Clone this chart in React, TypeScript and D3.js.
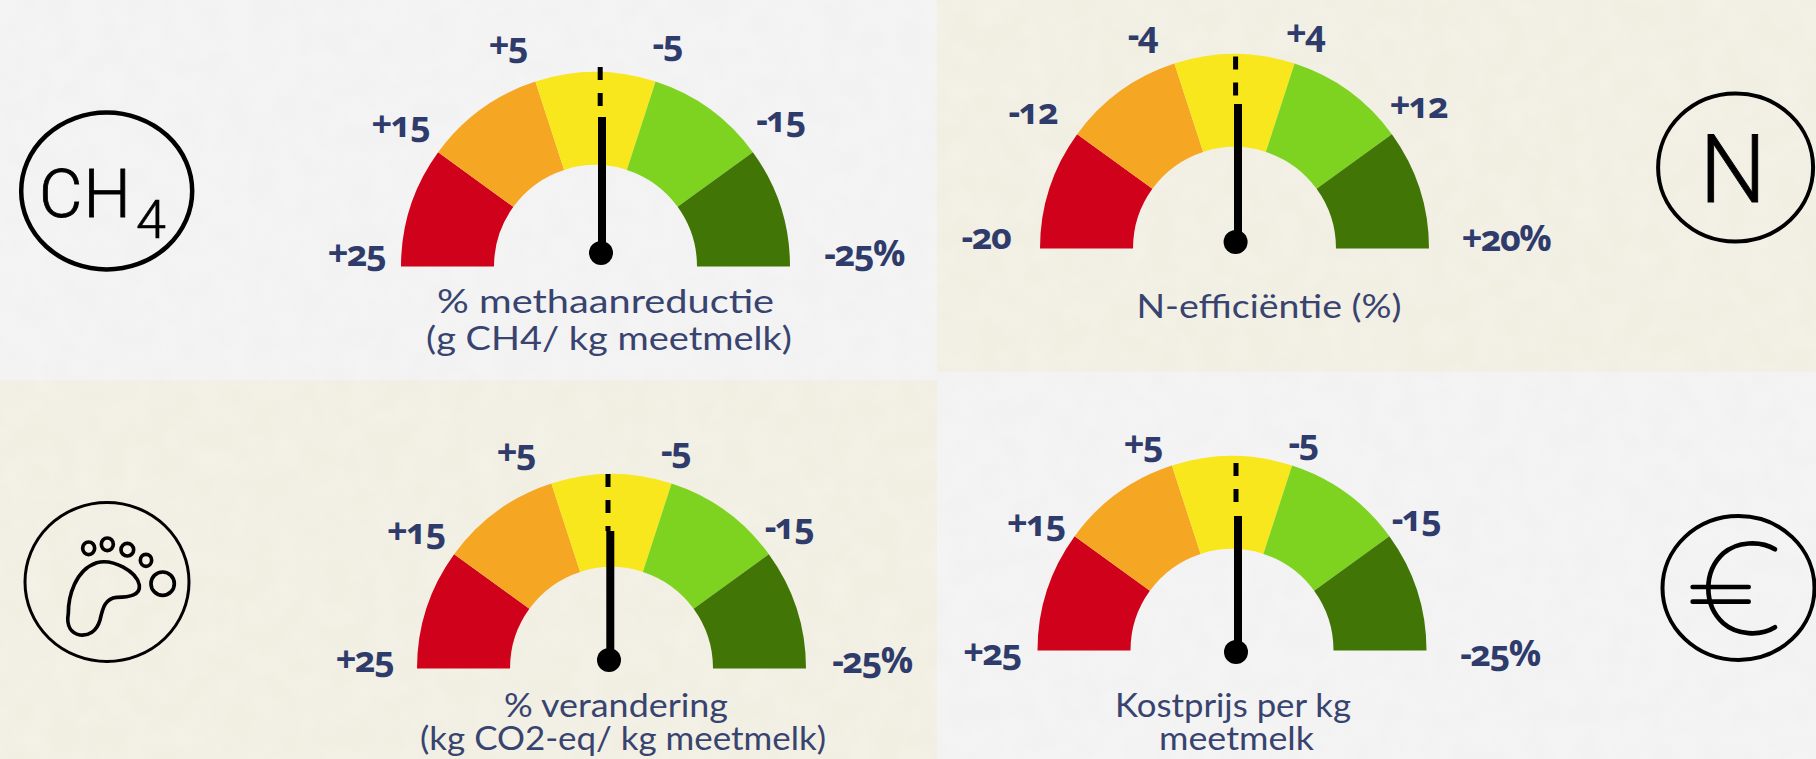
import React from 'react'
import { arc, scaleLinear } from 'd3'

// band edges of each gauge, left to right
const methaanTicks = [25, 15, 5, -5, -15, -25]
const stikstofTicks = [-20, -12, -4, 4, 12, 20]
const voetafdrukTicks = [25, 15, 5, -5, -15, -25]
const kostprijsTicks = [25, 15, 5, -5, -15, -25]
const allTicks = [methaanTicks, stikstofTicks, voetafdrukTicks, kostprijsTicks]

const titles = [
  ['% methaanreductie', '(g CH4/ kg meetmelk)'],
  ['N-efficiëntie (%)'],
  ['% verandering', '(kg CO2-eq/ kg meetmelk)'],
  ['Kostprijs per kg', 'meetmelk'],
]
const bandColors = ['#d0021b', '#f5a623', '#f8e71c', '#7ed321', '#417505']

const TEXT = '#2e3b6b'
const OUTER = 194.5
const INNER = 101.5
const LABEL_R = 230

// layout, separate from the data
const gaugeLayout = [
  { cx: 595.5, base: 266.5, hubX: 601, hubY: 253, needleX: 602, needleTop: 117, dashX: 600.2, dashTop: 67, dashEnd: 106 },
  { cx: 1234.5, base: 248.5, hubX: 1235.6, hubY: 242, needleX: 1238, needleTop: 104, dashX: 1235.6, dashTop: 56.5, dashEnd: 96 },
  { cx: 611.5, base: 668.5, hubX: 609, hubY: 660, needleX: 610.3, needleTop: 531, dashX: 608, dashTop: 474, dashEnd: 531 },
  { cx: 1232, base: 650.5, hubX: 1236, hubY: 652, needleX: 1238, needleTop: 516, dashX: 1236, dashTop: 463, dashEnd: 502 },
]
const labelNudge = [
  [[-9, -6], [-9, 0], [-16.5, 4], [0.7, 2], [-1, -5], [38.6, -6]],
  [[-18.6, -5], [-15.5, 5], [-21, 11], [-0.5, 10], [-2, -1], [41.5, -3.5]],
  [[-17, -2], [-9.5, 5], [-24.5, 9], [-7, 7], [-8.5, 0], [30.5, -1]],
  [[-10, 9], [-10, 15], [-18, 19], [0, 17], [-2, 10], [38, 10]],
]
const titleLayout = [
  [{ x: 605.6, y: 313, w: 337 }, { x: 609, y: 350, w: 366 }],
  [{ x: 1269, y: 318, w: 265 }],
  [{ x: 616, y: 717, w: 224 }, { x: 623, y: 750, w: 406 }],
  [{ x: 1233, y: 717, w: 236 }, { x: 1236.5, y: 750, w: 155 }],
]

const sectorArc = arc()

const tickText = (t: number, i: number) => {
  const s = t > 0 ? `+${t}` : `${t}`
  return i === 5 ? `${s}%` : s
}

const Gauge = ({ index }: { index: number }) => {
  const ticks = allTicks[index]
  const lay = gaugeLayout[index]
  const angle = scaleLinear()
    .domain([ticks[0], ticks[5]])
    .range([-Math.PI / 2, Math.PI / 2])

  return (
    <g>
      <g transform={`translate(${lay.cx},${lay.base})`}>
        {bandColors.map((c, i) => (
          <path
            key={c}
            fill={c}
            d={sectorArc({
              innerRadius: INNER,
              outerRadius: OUTER,
              startAngle: angle(ticks[i]),
              endAngle: angle(ticks[i + 1]),
            }) as string}
          />
        ))}
      </g>
      {/* needle */}
      <line
        x1={lay.dashX} x2={lay.dashX} y1={lay.dashTop} y2={lay.dashEnd}
        stroke="#000" strokeWidth={5} strokeDasharray="13 13"
      />
      <line
        x1={lay.needleX} x2={lay.needleX} y1={lay.needleTop} y2={lay.hubY}
        stroke="#000" strokeWidth={8}
      />
      <circle cx={lay.hubX} cy={lay.hubY} r={12} fill="#000" />
      {/* tick labels */}
      {ticks.map((t, i) => {
        const a = angle(t)
        const [nx, ny] = labelNudge[index][i]
        return (
          <text
            key={i}
            x={lay.cx + LABEL_R * Math.sin(a) + nx}
            y={lay.base - LABEL_R * Math.cos(a) + ny}
            dy="0.16em"
            textAnchor="middle"
            fontFamily="'Open Sans', sans-serif"
            fontWeight={700}
            fontSize={36}
            letterSpacing={-1.5}
            fill={TEXT}
            style={{ fontVariantNumeric: 'oldstyle-nums' }}
          >
            {tickText(t, i)}
          </text>
        )
      })}
      {titles[index].map((line, i) => {
        const p = titleLayout[index][i]
        return (
          <text
            key={i}
            x={p.x}
            y={p.y}
            textAnchor="middle"
            fontFamily="Lato, sans-serif"
            fontSize={33}
            fill="#38446f"
            textLength={p.w}
            lengthAdjust="spacingAndGlyphs"
          >
            {line}
          </text>
        )
      })}
    </g>
  )
}

const Icons = () => (
  <g fill="none" stroke="#000">
    {/* CH4 */}
    <ellipse cx={106.7} cy={191} rx={85.5} ry={78.5} strokeWidth={4.5} />
    <text x={39} y={217} fontFamily="Roboto, sans-serif" fontWeight={300} fontSize={67} letterSpacing={1} fill="#000" strokeWidth={0.8}>CH</text>
    <text x={136} y={238} fontFamily="Roboto, sans-serif" fontWeight={300} fontSize={54} fill="#000" strokeWidth={0.6}>4</text>
    {/* N */}
    <ellipse cx={1735.6} cy={167.5} rx={77.5} ry={74} strokeWidth={4} />
    <text x={1733} y={202} textAnchor="middle" fontFamily="Roboto, sans-serif" fontWeight={300} fontSize={94} fill="#000" strokeWidth={0.8}>N</text>
    {/* voetafdruk */}
    <ellipse cx={107} cy={582} rx={82} ry={79.5} strokeWidth={3} />
    <g transform="translate(0,480) scale(0.3333)" strokeWidth={11}>
      <path d="M205 400C205 350 225 270 290 248C340 235 410 275 418 315C422 345 390 352 350 352C315 355 308 385 300 420C290 455 265 468 240 465C215 460 198 440 205 400Z" />
      <ellipse cx={266} cy={205} rx={18} ry={19} />
      <ellipse cx={322} cy={193} rx={18} ry={19} />
      <ellipse cx={382} cy={209} rx={19} ry={19} />
      <ellipse cx={438} cy={241} rx={17} ry={18} />
      <ellipse cx={488} cy={311} rx={35} ry={35} />
    </g>
    {/* euro */}
    <ellipse cx={1738.5} cy={588} rx={76} ry={72} strokeWidth={4} />
    <g transform="translate(1640,490) scale(0.3333)" strokeWidth={14} strokeLinecap="round">
      <path d="M405 178C360 150 290 155 250 190C190 245 190 345 250 400C290 435 360 440 405 412" />
      <path d="M158 291H326M158 335H326" />
    </g>
  </g>
)

export default function App() {
  return (
    <div style={{ position: 'absolute', left: 0, top: 0 }}>
      <style>{'body{margin:0;overflow:hidden}'}</style>
      <svg width={1816} height={759} style={{ display: 'block' }}>
        <defs>
          <filter id="papier" x="0" y="0" width="100%" height="100%">
            <feTurbulence type="fractalNoise" baseFrequency="0.04" numOctaves={3} seed={4} />
            <feColorMatrix values="0 0 0 0 1  0 0 0 0 1  0 0 0 0 1  0.9 0 0 0 -0.25" />
          </filter>
        </defs>
        <rect x={0} y={0} width={937} height={380} fill="#f2f2f2" />
        <rect x={937} y={0} width={879} height={372} fill="#f1eee2" />
        <rect x={0} y={380} width={937} height={379} fill="#f1eee2" />
        <rect x={937} y={372} width={879} height={387} fill="#f2f2f2" />
        <rect x={0} y={0} width={1816} height={759} filter="url(#papier)" opacity={0.35} />
        {allTicks.map((_, i) => <Gauge key={i} index={i} />)}
        <Icons />
      </svg>
    </div>
  )
}
